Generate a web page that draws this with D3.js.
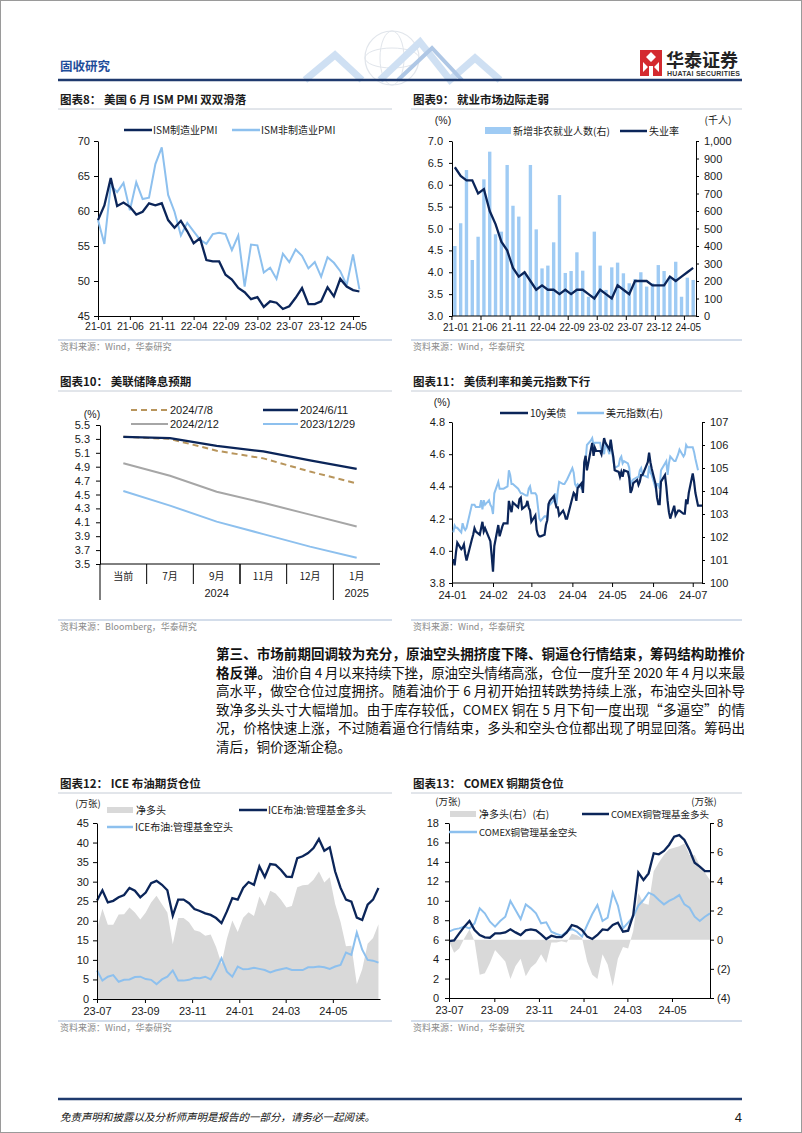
<!DOCTYPE html>
<html><head><meta charset="utf-8">
<script src="https://cdn.jsdelivr.net/npm/d3@7"></script>
<style>body{margin:0;background:#fff}svg{display:block}</style>
</head><body>
<svg id="page" width="802" height="1133"></svg>
<script>
// ---------------- DATA ----------------
// Chart 8: ISM PMI, monthly 2021-01 .. 2024-06
const pmiTickLabels = ['21-01','21-06','21-11','22-04','22-09','23-02','23-07','23-12','24-05'];
const pmiMfg = [58.7,60.8,64.7,60.7,61.2,60.6,59.5,59.9,61.1,60.8,61.1,58.7,57.6,58.6,57.1,55.4,56.1,53.0,52.8,52.8,50.9,50.2,49.0,48.4,47.4,47.7,46.3,47.1,46.9,46.0,46.4,47.6,49.0,46.7,46.7,47.1,49.1,47.8,50.3,49.2,48.7,48.5];
const pmiSvc = [58.7,55.3,63.7,62.7,64.0,60.1,64.1,61.7,61.9,66.7,69.1,62.3,59.9,56.5,58.3,57.1,55.9,55.3,56.7,56.9,56.7,54.4,56.5,49.2,55.2,55.1,51.2,51.9,50.3,53.9,52.7,54.5,53.6,51.8,52.7,50.6,53.4,52.6,51.4,49.4,53.8,48.8];
const pmiYTicks = [45,50,55,60,65,70];
// Chart 9: unemployment rate (%) & nonfarm payrolls (thousand)
const unemp = [6.4,6.2,6.1,6.1,5.8,5.9,5.4,5.1,4.7,4.5,4.1,3.9,4.0,3.8,3.6,3.7,3.6,3.6,3.5,3.6,3.5,3.6,3.6,3.5,3.4,3.6,3.5,3.4,3.7,3.6,3.5,3.8,3.8,3.8,3.7,3.7,3.7,3.9,3.8,3.9,4.0,4.1];
const nfp = [400,530,834,320,453,781,939,467,482,863,630,568,240,863,495,272,288,421,691,246,257,364,259,110,482,288,149,278,305,244,187,211,250,168,187,291,257,225,310,110,219,206];
const jobsLeftTicks = [3.0,3.5,4.0,4.5,5.0,5.5,6.0,6.5,7.0];
const jobsRightTicks = [0,100,200,300,400,500,600,700,800,900,1000];
// Chart 10: Fed path expectations
const fedCats = ['当前','7月','9月','11月','12月','1月'];
const fed0708 = [5.33,5.30,5.13,5.02,4.83,4.66];
const fed0611 = [5.33,5.31,5.20,5.12,4.99,4.87];
const fed0212 = [4.95,4.77,4.54,4.38,4.21,4.04];
const fed1229 = [4.55,4.34,4.11,3.93,3.75,3.59];
const fedYTicks = [3.5,3.7,3.9,4.1,4.3,4.5,4.7,4.9,5.1,5.3,5.5];
// Chart 11: 10y UST yield & DXY, daily 2024
const ratesDates = ['01-02','01-03','01-04','01-05','01-08','01-09','01-10','01-11','01-12','01-16','01-17','01-18','01-19','01-22','01-23','01-24','01-25','01-26','01-29','01-30','01-31',
'02-01','02-02','02-05','02-06','02-07','02-08','02-09','02-12','02-13','02-14','02-15','02-16','02-20','02-21','02-22','02-23','02-26','02-27','02-28','02-29',
'03-01','03-04','03-05','03-06','03-07','03-08','03-11','03-12','03-13','03-14','03-15','03-18','03-19','03-20','03-21','03-22','03-25','03-26','03-27','03-28',
'04-01','04-02','04-03','04-04','04-05','04-08','04-09','04-10','04-11','04-12','04-15','04-16','04-17','04-18','04-19','04-22','04-23','04-24','04-25','04-26','04-29','04-30',
'05-01','05-02','05-03','05-06','05-07','05-08','05-09','05-10','05-13','05-14','05-15','05-16','05-17','05-20','05-21','05-22','05-23','05-24','05-28','05-29','05-30','05-31',
'06-03','06-04','06-05','06-06','06-07','06-10','06-11','06-12','06-13','06-14','06-17','06-18','06-20','06-21','06-24','06-25','06-26','06-27','06-28',
'07-01','07-02','07-03','07-05','07-08'];
const ust10y = [3.95,3.91,3.99,4.05,4.01,4.02,4.04,3.98,3.94,4.07,4.10,4.14,4.12,4.10,4.14,4.18,4.12,4.14,4.08,4.06,3.97,
3.87,4.03,4.16,4.09,4.12,4.15,4.17,4.17,4.31,4.27,4.24,4.30,4.27,4.32,4.33,4.26,4.28,4.31,4.27,4.25,
4.18,4.22,4.13,4.10,4.09,4.09,4.10,4.16,4.19,4.29,4.31,4.34,4.30,4.27,4.27,4.22,4.25,4.23,4.20,4.20,
4.33,4.36,4.35,4.31,4.39,4.42,4.36,4.55,4.59,4.50,4.63,4.67,4.59,4.64,4.62,4.62,4.60,4.65,4.70,4.67,4.63,4.69,
4.63,4.58,4.50,4.49,4.46,4.49,4.46,4.50,4.49,4.45,4.36,4.38,4.42,4.44,4.41,4.43,4.47,4.47,4.55,4.61,4.55,4.51,
4.41,4.33,4.29,4.29,4.43,4.47,4.40,4.31,4.24,4.20,4.28,4.22,4.25,4.25,4.23,4.23,4.32,4.29,4.36,
4.48,4.43,4.36,4.28,4.28];
const dxy = [102.2,102.5,102.4,102.4,102.2,102.6,102.4,102.3,102.4,103.4,103.4,103.4,103.3,103.3,103.6,103.2,103.6,103.4,103.6,103.4,103.3,
103.0,103.9,104.4,104.1,104.1,104.1,104.1,104.2,104.9,104.7,104.3,104.3,104.1,104.0,103.9,103.9,103.8,103.8,104.1,104.2,
103.9,103.9,103.8,103.3,102.8,102.7,102.9,102.9,102.8,103.4,103.4,103.6,103.9,103.4,104.0,104.4,104.3,104.3,104.4,104.5,
105.0,104.8,104.3,104.2,104.3,104.1,104.1,105.2,105.3,106.0,106.2,106.3,106.0,106.1,106.1,106.1,105.7,105.8,105.6,106.1,105.6,106.2,
105.7,105.3,105.0,105.1,105.4,105.5,105.2,105.3,105.2,105.0,104.3,104.4,104.5,104.6,104.6,104.9,105.0,104.7,104.6,105.1,104.8,104.7,
104.1,104.3,104.3,104.1,104.9,105.2,105.3,104.7,105.2,105.5,105.3,105.3,105.6,105.8,105.5,105.6,106.0,105.9,105.9,
105.9,105.7,105.4,104.9,null];
const ratesMonthLabels = ['24-01','24-02','24-03','24-04','24-05','24-06','24-07'];
const ustTicks = [3.8,4.0,4.2,4.4,4.6,4.8];
const dxyTicks = [100,101,102,103,104,105,106,107];
// Chart 12: ICE Brent managed money (10k lots), weekly from 2023-07
const iceLong = [25.2,27.8,24.7,25.1,26.0,26.6,28.4,27.7,26.0,27.2,29.6,30.2,29.2,27.8,21.3,25.4,25.4,24.5,23.0,22.5,21.9,21.5,20.7,19.4,22.4,25.8,25.4,28.4,29.9,29.2,33.9,31.2,34.5,34.3,33.0,31.3,31.2,36.0,36.5,37.3,38.6,40.9,37.9,38.8,32.6,28.4,25.4,24.9,20.8,20.2,24.1,25.4,28.4];
const iceShort = [7.3,4.7,5.7,6.1,4.4,4.9,5.0,5.6,5.7,5.1,4.9,3.8,5.0,5.7,7.3,4.7,4.7,4.9,5.4,5.3,5.7,5.0,7.4,10.4,7.0,5.7,8.3,7.6,7.7,8.0,7.7,7.4,6.8,7.3,7.6,7.9,7.4,7.4,7.4,8.1,8.1,8.3,8.1,7.7,8.3,8.7,11.9,11.3,17.0,12.6,10.0,9.8,9.3];
const iceNet = [17.9,23.1,19.0,19.0,21.6,21.7,23.4,22.1,20.3,22.1,24.7,26.4,24.2,22.1,14.0,20.7,20.7,19.6,17.6,17.2,16.2,16.5,13.3,9.0,15.4,20.1,17.1,20.8,22.2,21.2,26.2,23.8,27.7,27.0,25.4,23.4,23.8,28.6,29.1,29.2,30.5,32.6,29.8,31.1,24.3,19.7,13.5,13.6,3.8,7.6,14.1,15.6,19.1];
const posTickLabels = ['23-07','23-09','23-11','24-01','24-03','24-05'];
const iceYTicks = [0,5,10,15,20,25,30,35,40,45];
// Chart 13: COMEX copper managed money (10k lots), weekly from 2023-07
const cuLong = [5.86,5.93,6.65,7.34,7.92,6.99,6.48,6.24,6.20,6.65,6.65,6.75,7.06,6.75,6.48,6.96,7.06,6.96,6.55,6.07,6.41,6.27,6.27,6.75,7.51,7.34,6.99,6.31,6.07,6.48,7.06,6.99,7.51,7.75,6.82,6.92,8.54,12.89,12.14,12.82,14.88,14.78,15.12,15.74,16.59,16.76,16.25,15.22,13.92,13.51,13.06,13.06];
const cuShort = [6.82,7.06,7.16,7.34,7.16,7.68,9.22,8.71,7.85,7.34,7.92,8.36,9.98,9.05,8.12,9.63,9.22,8.71,7.68,7.78,6.82,6.58,6.41,6.82,7.10,6.82,6.31,7.51,8.64,9.56,7.92,8.26,10.83,9.50,7.16,7.75,8.36,9.50,10.08,10.83,10.59,10.08,9.63,9.98,10.25,10.59,9.63,9.29,8.36,7.92,8.36,8.71];
const cuNet = [-0.1,-0.9,-0.6,0.1,0.7,-0.1,-2.4,-2.3,-1.6,-0.7,-1.1,-1.5,-2.7,-1.8,-1.3,-2.5,-1.9,-1.6,-1.0,-1.6,-0.2,-0.2,-0.1,-0.2,0.4,0.3,0.1,-1.5,-2.4,-2.7,-1.0,-1.7,-3.2,-1.3,-0.5,-0.6,0.6,3.2,2.5,2.4,4.7,5.3,5.8,6.2,6.3,6.4,6.6,5.8,5.8,5.1,4.6,4.1];
const cuLeftTicks = [0,2,4,6,8,10,12,14,16,18];
const cuRightTicks = [-4,-2,0,2,4,6,8];

// ---------------- DRAW ----------------
const svg = d3.select('#page');
const CN = "'Noto Sans CJK SC','Noto Sans',sans-serif";
const NUM = "'Liberation Sans',Arial,sans-serif";
const NAVY = '#0B2559', LB = '#8DC0EE', GRY = '#D9D9D9', TXT = '#1a1a1a';

function txt(x, y, s, o = {}) {
  const t = svg.append('text').attr('x', x).attr('y', y).text(s)
    .attr('font-family', o.ff || CN).attr('font-size', o.fs || 11).attr('fill', o.fill || TXT)
    .attr('font-weight', o.fw || 'normal').attr('text-anchor', o.anchor || 'start');
  if (o.len) t.attr('textLength', o.len).attr('lengthAdjust', 'spacing');
  if (o.style) t.attr('font-style', o.style);
  return t;
}
function line(x1, y1, x2, y2, stroke, w, dash) {
  const l = svg.append('line').attr('x1', x1).attr('y1', y1).attr('x2', x2).attr('y2', y2)
    .attr('stroke', stroke).attr('stroke-width', w);
  if (dash) l.attr('stroke-dasharray', dash);
  return l;
}
function styleAxis(g, fs) {
  g.selectAll('path.domain').attr('stroke', '#000').attr('stroke-width', 1);
  g.selectAll('.tick line').attr('stroke', '#000');
  g.selectAll('text').attr('font-family', NUM).attr('font-size', fs || 11).attr('fill', TXT);
}
function title(x, y, s, x2) {
  txt(x, y, s, { fs: 11.5, fw: 'bold' });
  line(x - 2, y + 5, x2, y + 5, '#C5CCD6', 1);
}
function source(x, y, s, x2) {
  line(x - 2, y - 10, x2, y - 10, '#A8BBD6', 1);
  txt(x, y, s, { fs: 9, fill: '#8a8a8a' });
}

// page border
svg.append('rect').attr('x', 0.5).attr('y', 0.5).attr('width', 801).attr('height', 1132)
  .attr('fill', 'none').attr('stroke', '#9a9a9a');

// header
const deco = svg.append('g').attr('opacity', 0.55);
deco.append('circle').attr('cx', 392).attr('cy', 58).attr('r', 27).attr('fill', 'none').attr('stroke', '#c9d1dc').attr('stroke-width', 1.2);
deco.append('ellipse').attr('cx', 392).attr('cy', 58).attr('rx', 12).attr('ry', 27).attr('fill', 'none').attr('stroke', '#c9d1dc');
deco.append('ellipse').attr('cx', 392).attr('cy', 58).attr('rx', 27).attr('ry', 10).attr('fill', 'none').attr('stroke', '#c9d1dc');
deco.append('path').attr('d', 'M305,80 L335,55 L362,80 M380,80 L420,42 L450,80 L475,58 L500,80')
  .attr('fill', 'none').attr('stroke', '#A9C8EA').attr('stroke-width', 7);
deco.append('path').attr('d', 'M398,80 L432,48 L462,80')
  .attr('fill', 'none').attr('stroke', '#6E9AD0').attr('stroke-width', 4);
txt(60, 71, '固收研究', { fs: 12.5, fw: 'bold', fill: '#1F4E9A' });
line(58, 80, 742, 80, '#1F3A6E', 2.5);
svg.append('rect').attr('x', 640).attr('y', 50).attr('width', 22).attr('height', 26).attr('fill', '#D42A2F');
svg.append('path').attr('d', 'M651,52 L656,57 L651,62 L646,57 Z M643,62 L648,67 L643,72 Z M659,62 L654,67 L659,72 Z M649,66 h4 v10 h-4 Z')
  .attr('fill', '#fff');
txt(666, 67, '华泰证券', { fs: 18, fw: 'bold', fill: '#222' });
txt(667, 76, 'HUATAI SECURITIES', { fs: 7, fw: 'bold', fill: '#333', ff: NUM, len: 73 });

// ===== Chart 8 =====
title(60, 104, '图表8：  美国 6 月 ISM PMI 双双滑落', 392);
{
  const x = d3.scaleLinear().domain([0, pmiMfg.length - 1]).range([98, 359.4]);
  const y = d3.scaleLinear().domain([45, 70]).range([316, 141]);
  const ga = svg.append('g').attr('transform', 'translate(98,0)')
    .call(d3.axisLeft(y).tickValues(pmiYTicks).tickSize(4).tickSizeOuter(0).tickPadding(4));
  styleAxis(ga);
  const gb = svg.append('g').attr('transform', 'translate(0,316)')
    .call(d3.axisBottom(x).tickValues(d3.range(0, 41, 5)).tickSize(4).tickSizeOuter(0)
      .tickFormat((d, i) => pmiTickLabels[i]).tickPadding(3));
  styleAxis(gb, 10.5);
  const ln = d3.line().x((d, i) => x(i)).y(d => y(d));
  svg.append('path').datum(pmiSvc).attr('d', ln).attr('fill', 'none').attr('stroke', LB).attr('stroke-width', 2);
  svg.append('path').datum(pmiMfg).attr('d', ln).attr('fill', 'none').attr('stroke', NAVY).attr('stroke-width', 2.3);
  line(124, 130, 152, 130, NAVY, 2.5); txt(153, 134, 'ISM制造业PMI', { fs: 10 });
  line(232, 130, 260, 130, LB, 2.5); txt(261, 134, 'ISM非制造业PMI', { fs: 10 });
}
source(60, 350, '资料来源：Wind，华泰研究', 392);

// ===== Chart 9 =====
title(413, 104, '图表9：  就业市场边际走弱', 742);
{
  const idx = d3.range(unemp.length);
  const xb = d3.scaleBand().domain(idx).range([452, 696]).paddingInner(0.42).paddingOuter(0.2);
  const step = xb.step();
  const yL = d3.scaleLinear().domain([3, 7]).range([316, 141]);
  const yR = d3.scaleLinear().domain([0, 1000]).range([316, 141]);
  svg.append('g').selectAll('rect').data(nfp).join('rect')
    .attr('x', (d, i) => xb(i)).attr('width', xb.bandwidth())
    .attr('y', d => yR(d)).attr('height', d => yR(0) - yR(d)).attr('fill', '#9FCBF4');
  const gl = svg.append('g').attr('transform', 'translate(452,0)')
    .call(d3.axisLeft(yL).tickValues(jobsLeftTicks).tickSize(3).tickSizeOuter(0).tickPadding(6).tickFormat(d3.format('.1f')));
  styleAxis(gl);
  const gr = svg.append('g').attr('transform', 'translate(696,0)')
    .call(d3.axisRight(yR).tickValues(jobsRightTicks).tickSize(3).tickSizeOuter(0).tickPadding(5).tickFormat(d3.format(',')));
  styleAxis(gr);
  line(452, 316, 696, 316, '#000', 1);
  const x0 = xb(0) - xb.step() * xb.paddingInner() / 2;
  pmiTickLabels.forEach((lab, k) => {
    const i = k * 5;
    const cx = xb(i) + xb.bandwidth() / 2;
    line(x0 + i * step, 316, x0 + i * step, 320, '#000', 1);
    txt(cx + 1, 331, lab, { ff: NUM, fs: 10, anchor: 'middle' });
  });
  const ln = d3.line().x((d, i) => xb(i) + xb.bandwidth() / 2).y(d => yL(d));
  svg.append('path').datum(unemp).attr('d', ln).attr('fill', 'none').attr('stroke', NAVY).attr('stroke-width', 2.3);
  txt(443, 124, '(%)', { ff: NUM, fs: 10.5, anchor: 'middle' });
  txt(718, 124, '(千人)', { fs: 10, anchor: 'middle' });
  svg.append('rect').attr('x', 485).attr('y', 127).attr('width', 26).attr('height', 7).attr('fill', '#9FCBF4');
  txt(513, 135, '新增非农就业人数(右)', { fs: 10 });
  line(620, 131, 647, 131, NAVY, 2.5); txt(649, 135, '失业率', { fs: 10 });
}
source(413, 350, '资料来源：Wind，华泰研究', 742);

// ===== Chart 10 =====
title(60, 386, '图表10：  美联储降息预期', 392);
{
  const x = d3.scaleBand().domain(fedCats).range([100, 380]);
  const y = d3.scaleLinear().domain([3.5, 5.5]).range([564, 425]);
  const ga = svg.append('g').attr('transform', 'translate(100,0)')
    .call(d3.axisLeft(y).tickValues(fedYTicks).tickSize(4).tickSizeOuter(0).tickPadding(6).tickFormat(d3.format('.1f')));
  styleAxis(ga);
  line(100, 564, 100, 600, '#000', 1);
  line(100, 564, 380, 564, '#000', 1);
  fedCats.forEach((c, i) => {
    const xr = x(c) + x.bandwidth();
    if (i < fedCats.length - 1) line(xr, 564, xr, i === 4 ? 600 : 584, '#000', i === 2 ? 1.5 : 1);
    txt(x(c) + x.bandwidth() / 2, 580, c, { fs: 10, anchor: 'middle' });
  });
  txt((x('当前') + x('12月') + x.bandwidth()) / 2, 597, '2024', { ff: NUM, anchor: 'middle' });
  txt(x('1月') + x.bandwidth() / 2, 597, '2025', { ff: NUM, anchor: 'middle' });
  const ln = d3.line().x((d, i) => x(fedCats[i]) + x.bandwidth() / 2).y(d => y(d));
  svg.append('path').datum(fed1229).attr('d', ln).attr('fill', 'none').attr('stroke', LB).attr('stroke-width', 2);
  svg.append('path').datum(fed0212).attr('d', ln).attr('fill', 'none').attr('stroke', '#A6A6A6').attr('stroke-width', 2);
  svg.append('path').datum(fed0708).attr('d', ln).attr('fill', 'none').attr('stroke', '#B8955C').attr('stroke-width', 2).attr('stroke-dasharray', '6,4');
  svg.append('path').datum(fed0611).attr('d', ln).attr('fill', 'none').attr('stroke', NAVY).attr('stroke-width', 2.3);
  txt(92, 418, '(%)', { ff: NUM, fs: 10.5, anchor: 'middle' });
  line(131, 410, 168, 410, '#B8955C', 2, '6,4'); txt(170, 414, '2024/7/8', { ff: NUM });
  line(263, 410, 298, 410, NAVY, 2.5); txt(300, 414, '2024/6/11', { ff: NUM });
  line(131, 424, 168, 424, '#A6A6A6', 2); txt(170, 428, '2024/2/12', { ff: NUM });
  line(263, 424, 298, 424, LB, 2); txt(300, 428, '2023/12/29', { ff: NUM });
}
source(60, 630, '资料来源：Bloomberg，华泰研究', 392);

// ===== Chart 11 =====
title(413, 386, '图表11：  美债利率和美元指数下行', 742);
{
  const parse = d3.timeParse('%Y-%m-%d');
  const dates = ratesDates.map(d => parse('2024-' + d));
  const x = d3.scaleTime().domain([parse('2024-01-01'), parse('2024-07-08')]).range([452, 702]);
  const yL = d3.scaleLinear().domain([3.8, 4.8]).range([583, 422]);
  const yR = d3.scaleLinear().domain([100, 107]).range([583, 422]);
  const gl = svg.append('g').attr('transform', 'translate(452,0)')
    .call(d3.axisLeft(yL).tickValues(ustTicks).tickSize(3).tickSizeOuter(0).tickPadding(4).tickFormat(d3.format('.1f')));
  styleAxis(gl);
  const gr = svg.append('g').attr('transform', 'translate(702,0)')
    .call(d3.axisRight(yR).tickValues(dxyTicks).tickSize(3).tickSizeOuter(0).tickPadding(5).tickFormat(d3.format('d')));
  styleAxis(gr);
  const months = d3.timeMonth.range(parse('2024-01-01'), parse('2024-07-02'));
  const gb = svg.append('g').attr('transform', 'translate(0,583)')
    .call(d3.axisBottom(x).tickValues(months).tickSize(4).tickSizeOuter(0).tickPadding(4)
      .tickFormat((d, i) => ratesMonthLabels[i]));
  styleAxis(gb);
  gb.select('path.domain').attr('d', 'M452,0H702');
  const lnR = d3.line().defined(d => d[1] != null).x(d => x(d[0])).y(d => yR(d[1]));
  const lnL = d3.line().x(d => x(d[0])).y(d => yL(d[1]));
  svg.append('path').datum(dates.map((d, i) => [d, dxy[i]])).attr('d', lnR)
    .attr('fill', 'none').attr('stroke', LB).attr('stroke-width', 2);
  svg.append('path').datum(dates.map((d, i) => [d, ust10y[i]])).attr('d', lnL)
    .attr('fill', 'none').attr('stroke', NAVY).attr('stroke-width', 2.2);
  txt(442, 406, '(%)', { ff: NUM, fs: 10.5, anchor: 'middle' });
  line(500, 413, 528, 413, NAVY, 2.5); txt(530, 417, '10y美债', { fs: 10 });
  line(577, 413, 604, 413, LB, 2.5); txt(606, 417, '美元指数(右)', { fs: 10 });
}
source(413, 630, '资料来源：Wind，华泰研究', 742);

// ===== Paragraph =====
{
  const L = 216, R = 745;
  txt(L, 659, '第三、市场前期回调较为充分，原油空头拥挤度下降、铜逼仓行情结束，筹码结构助推价', { fs: 13.5, fw: 'bold', fill: '#111', len: R - L });
  txt(L, 678, '格反弹。', { fs: 13.5, fw: 'bold', fill: '#111', len: 55 });
  txt(L + 56, 678, '油价自 4 月以来持续下挫，原油空头情绪高涨，仓位一度升至 2020 年 4 月以来最', { fs: 13.5, fill: '#111', len: R - L - 56 });
  txt(L, 696, '高水平，做空仓位过度拥挤。随着油价于 6 月初开始扭转跌势持续上涨，布油空头回补导', { fs: 13.5, fill: '#111', len: R - L });
  txt(L, 715, '致净多头头寸大幅增加。由于库存较低，COMEX 铜在 5 月下旬一度出现“多逼空”的情', { fs: 13.5, fill: '#111', len: R - L });
  txt(L, 733, '况，价格快速上涨，不过随着逼仓行情结束，多头和空头仓位都出现了明显回落。筹码出', { fs: 13.5, fill: '#111', len: R - L });
  txt(L, 752, '清后，铜价逐渐企稳。', { fs: 13.5, fill: '#111' });
}

// ===== Chart 12 =====
title(60, 788, '图表12：  ICE 布油期货仓位', 392);
{
  const parse = d3.timeParse('%Y-%m-%d');
  const start = parse('2023-07-01');
  const dates = iceLong.map((d, i) => d3.timeDay.offset(start, 7 * i));
  const x = d3.scaleTime().domain([start, parse('2024-07-01')]).range([97, 380]);
  const y = d3.scaleLinear().domain([0, 45]).range([999, 823]);
  const area = d3.area().x((d, i) => x(dates[i])).y0(y(0)).y1(d => y(d));
  svg.append('path').datum(iceNet).attr('d', area).attr('fill', GRY);
  const ln = d3.line().x((d, i) => x(dates[i])).y(d => y(d));
  svg.append('path').datum(iceShort).attr('d', ln).attr('fill', 'none').attr('stroke', LB).attr('stroke-width', 2);
  svg.append('path').datum(iceLong).attr('d', ln).attr('fill', 'none').attr('stroke', NAVY).attr('stroke-width', 2.3);
  const ga = svg.append('g').attr('transform', 'translate(97,0)')
    .call(d3.axisLeft(y).tickValues(iceYTicks).tickSize(4).tickSizeOuter(0).tickPadding(4));
  styleAxis(ga);
  const ticks = d3.timeMonth.every(2).range(start, parse('2024-06-02'));
  const gb = svg.append('g').attr('transform', 'translate(0,999)')
    .call(d3.axisBottom(x).tickValues(ticks).tickSize(4).tickSizeOuter(0).tickPadding(4)
      .tickFormat((d, i) => posTickLabels[i]));
  styleAxis(gb);
  txt(88, 807, '(万张)', { fs: 9.5, anchor: 'middle' });
  svg.append('rect').attr('x', 107).attr('y', 807).attr('width', 26).attr('height', 6).attr('fill', GRY);
  txt(136, 814, '净多头', { fs: 10 });
  line(239, 810, 267, 810, NAVY, 2.5); txt(268, 814, 'ICE布油:管理基金多头', { fs: 10 });
  line(107, 827, 133, 827, LB, 2.5); txt(135, 831, 'ICE布油:管理基金空头', { fs: 10 });
}
source(60, 1031, '资料来源：Wind，华泰研究', 392);

// ===== Chart 13 =====
title(413, 788, '图表13：  COMEX 铜期货仓位', 742);
{
  const parse = d3.timeParse('%Y-%m-%d');
  const start = parse('2023-07-01');
  const dates = cuLong.map((d, i) => d3.timeDay.offset(start, 7 * i));
  const x = d3.scaleTime().domain([start, parse('2024-06-22')]).range([449, 710]);
  const yL = d3.scaleLinear().domain([0, 18]).range([998, 823]);
  const yR = d3.scaleLinear().domain([-4, 8]).range([998, 823]);
  const area = d3.area().x((d, i) => x(dates[i])).y0(yR(0)).y1(d => yR(d));
  svg.append('path').datum(cuNet).attr('d', area).attr('fill', GRY);
  const ln = d3.line().x((d, i) => x(dates[i])).y(d => yL(d));
  svg.append('path').datum(cuShort).attr('d', ln).attr('fill', 'none').attr('stroke', LB).attr('stroke-width', 2);
  svg.append('path').datum(cuLong).attr('d', ln).attr('fill', 'none').attr('stroke', NAVY).attr('stroke-width', 2.3);
  const gl = svg.append('g').attr('transform', 'translate(449,0)')
    .call(d3.axisLeft(yL).tickValues(cuLeftTicks).tickSize(4).tickSizeOuter(0).tickPadding(6));
  styleAxis(gl);
  const gr = svg.append('g').attr('transform', 'translate(710,0)')
    .call(d3.axisRight(yR).tickValues(cuRightTicks).tickSize(4).tickSizeOuter(0).tickPadding(3)
      .tickFormat(d => d < 0 ? '(' + (-d) + ')' : String(d)));
  styleAxis(gr);
  const ticks = d3.timeMonth.every(2).range(start, parse('2024-06-02'));
  const gb = svg.append('g').attr('transform', 'translate(0,998)')
    .call(d3.axisBottom(x).tickValues(ticks).tickSize(4).tickSizeOuter(0).tickPadding(4)
      .tickFormat((d, i) => posTickLabels[i]));
  styleAxis(gb);
  txt(448, 805, '(万张)', { fs: 9.5, anchor: 'middle' });
  txt(704, 805, '(万张)', { fs: 9.5, anchor: 'middle' });
  svg.append('rect').attr('x', 450).attr('y', 811).attr('width', 26).attr('height', 6).attr('fill', GRY);
  txt(479, 818, '净多头(右）(右)', { fs: 10 });
  line(582, 814, 609, 814, NAVY, 2.5); txt(611, 818, 'COMEX铜管理基金多头', { fs: 9.5 });
  line(449, 832, 477, 832, LB, 2.5); txt(479, 836, 'COMEX铜管理基金空头', { fs: 9.5 });
}
source(413, 1031, '资料来源：Wind，华泰研究', 742);

// footer
line(58, 1099, 742, 1099, '#1F3A6E', 2.5);
txt(60, 1121, '免责声明和披露以及分析师声明是报告的一部分，请务必一起阅读。', { fs: 10.5, style: 'italic', fill: '#111' });
txt(742, 1122, '4', { ff: NUM, fs: 13, anchor: 'end' });
</script>
</body></html>
